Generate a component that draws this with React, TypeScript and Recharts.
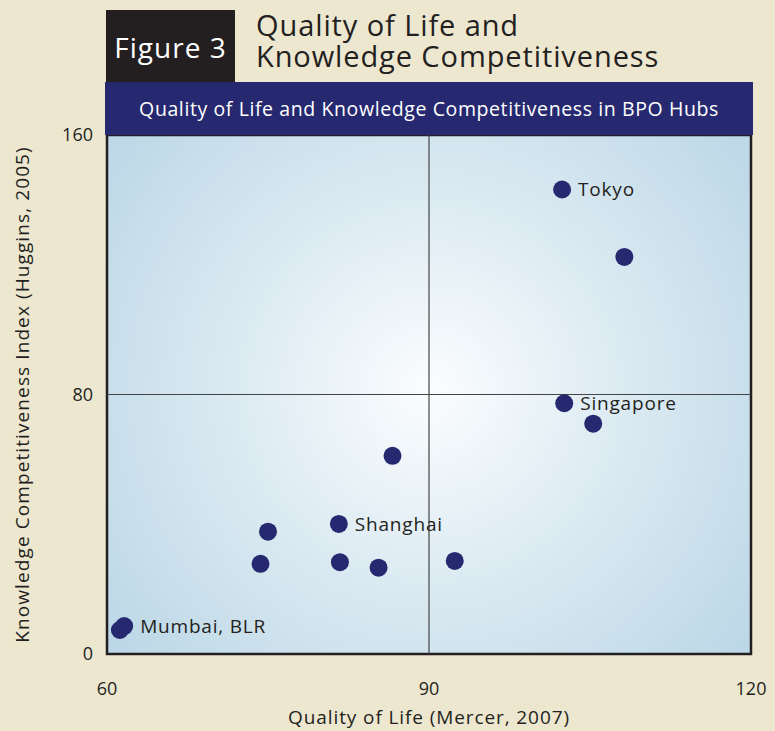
import React from "react";
import {
  ScatterChart,
  Scatter,
  XAxis,
  YAxis,
  ReferenceLine,
  ReferenceArea,
} from "recharts";

const cities = [
  "Tokyo",
  "",
  "Singapore",
  "",
  "",
  "Shanghai",
  "",
  "",
  "",
  "",
  "",
  "Mumbai, BLR",
  "",
];
const qualityOfLife = [102.4, 108.2, 102.6, 105.3, 86.6, 81.6, 75.0, 74.3, 81.7, 85.3, 92.4, 61.6, 61.2];
const knowledgeIndex = [143.2, 122.4, 77.3, 71.0, 61.1, 40.1, 37.7, 27.8, 28.3, 26.6, 28.7, 8.6, 7.4];
const xTicks = [60, 90, 120];
const yTicks = [0, 80, 160];

const data = cities.map((c, i) => ({
  label: c,
  x: qualityOfLife[i],
  y: knowledgeIndex[i],
}));

const FONT = "'Open Sans', 'DejaVu Sans', sans-serif";
const INK = "#231f20";
const NAVY = "#26296f";

function Dot(props: any) {
  const { cx, cy, payload } = props;
  return (
    <g>
      <circle cx={cx} cy={cy} r={9} fill={NAVY} />
      {payload.label ? (
        <text
          x={cx + 16}
          y={cy}
          dominantBaseline="central"
          fontSize={19}
          letterSpacing={0.8}
          fontFamily={FONT}
          fill={INK}
        >
          {payload.label}
        </text>
      ) : null}
    </g>
  );
}

export default function App() {
  return (
    <div
      style={{
        position: "absolute",
        left: 0,
        top: 0,
        width: 775,
        height: 731,
        background: "#ede7d0",
        fontFamily: FONT,
        overflow: "hidden",
      }}
    >
      <ScatterChart
        width={775}
        height={731}
        margin={{ top: 135, right: 24, left: 47, bottom: 17 }}
      >
        <defs>
          <radialGradient
            id="bg"
            gradientUnits="userSpaceOnUse"
            cx={430}
            cy={390}
            r={420}
          >
            <stop offset="0%" stopColor="#fbfdfe" />
            <stop offset="55%" stopColor="#d6e7f0" />
            <stop offset="100%" stopColor="#bad6e6" />
          </radialGradient>
        </defs>
        <XAxis
          type="number"
          dataKey="x"
          domain={[60, 120]}
          ticks={xTicks}
          height={60}
          axisLine={false}
          tickLine={false}
          tick={{ fontSize: 18, fill: INK, fontFamily: FONT, dy: 20 }}
          interval={0}
          label={{
            value: "Quality of Life (Mercer, 2007)",
            position: "insideBottom",
            offset: -10,
            fontSize: 19,
            letterSpacing: 0.9,
            fill: INK,
            fontFamily: FONT,
          }}
        />
        <YAxis
          type="number"
          dataKey="y"
          domain={[0, 160]}
          ticks={yTicks}
          width={60}
          axisLine={false}
          tickLine={false}
          tick={{ fontSize: 18, fill: INK, fontFamily: FONT, dx: -6 }}
          interval={0}
          label={{
            value: "Knowledge Competitiveness Index (Huggins, 2005)",
            angle: -90,
            position: "insideLeft",
            offset: -25,
            style: { textAnchor: "middle" },
            fontSize: 19,
            letterSpacing: 1.1,
            fill: INK,
            fontFamily: FONT,
          }}
        />
        <ReferenceArea
          x1={60}
          x2={120}
          y1={0}
          y2={160}
          fill="url(#bg)"
          fillOpacity={1}
          stroke={INK}
          strokeWidth={2.5}
        />
        <ReferenceLine x={90} stroke="#444" strokeWidth={1.2} />
        <ReferenceLine y={80} stroke="#444" strokeWidth={1.2} />
        <Scatter data={data} shape={Dot} isAnimationActive={false} />
      </ScatterChart>

      <div
        style={{
          position: "absolute",
          left: 106,
          top: 10,
          width: 129,
          height: 72,
          background: INK,
          color: "#fff",
          fontSize: 28,
          letterSpacing: 1,
          display: "flex",
          alignItems: "center",
          justifyContent: "center",
          paddingTop: 2,
          boxSizing: "border-box",
        }}
      >
        Figure 3
      </div>
      <div
        style={{
          position: "absolute",
          left: 256,
          top: 9,
          color: INK,
          fontSize: 29,
          letterSpacing: 0.9,
          lineHeight: "31px",
          whiteSpace: "nowrap",
        }}
      >
        <div>Quality of Life and</div>
        <div>Knowledge Competitiveness</div>
      </div>
      <div
        style={{
          position: "absolute",
          left: 105,
          top: 82,
          width: 648,
          height: 53,
          background: NAVY,
          color: "#fff",
          fontSize: 19.5,
          letterSpacing: 0.6,
          display: "flex",
          alignItems: "center",
          justifyContent: "center",
        }}
      >
        Quality of Life and Knowledge Competitiveness in BPO Hubs
      </div>
    </div>
  );
}
